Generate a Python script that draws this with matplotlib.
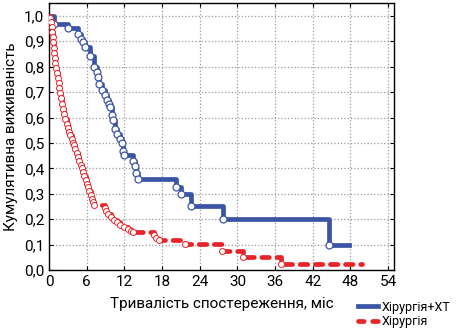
import matplotlib
matplotlib.use("Agg")
import matplotlib.pyplot as plt
from matplotlib.lines import Line2D

plt.rcParams['font.family'] = ['Roboto', 'DejaVu Sans']

# Хірургія+ХТ (час, частка)
t_xt = [0, 0.8, 3.0, 4.6, 5.1, 5.4, 5.7, 6.5, 7.2, 7.6, 7.8, 8.0, 8.4, 8.9, 9.2, 9.5,
        9.7, 10.0, 10.2, 10.5, 10.8, 11.3, 11.6, 11.8, 12.0, 13.4, 13.7, 13.8, 14.2,
        20.2, 21.0, 22.6, 27.7, 44.6, 47.8]
s_xt = [1.0, 0.968, 0.95, 0.93, 0.91, 0.895, 0.878, 0.842, 0.80, 0.78, 0.76, 0.73, 0.71,
        0.69, 0.67, 0.655, 0.64, 0.61, 0.59, 0.555, 0.535, 0.515, 0.50, 0.47, 0.452,
        0.43, 0.41, 0.38, 0.357, 0.327, 0.30, 0.254, 0.20, 0.10, 0.10]

# Хірургія
t_s = [0, 0.15, 0.3, 0.4, 0.5, 0.55, 0.6, 0.7, 0.8, 0.9, 1.0, 1.1, 1.2, 1.35, 1.5, 1.65,
       1.8, 1.95, 2.1, 2.25, 2.4, 2.6, 2.8, 3.0, 3.2, 3.4, 3.6, 3.8, 4.0, 4.2, 4.4, 4.6,
       4.8, 5.0, 5.2, 5.4, 5.6, 5.8, 6.0, 6.2, 6.4, 6.6, 6.8, 7.0, 7.2,
       8.9, 9.1, 9.4, 9.8, 10.3, 10.8, 11.3, 11.9, 12.5, 13.0, 13.4,
       16.7, 17.0, 17.5, 21.6, 27.6, 30.8, 37.0, 49.8]
s_s = [1.0, 0.99, 0.975, 0.955, 0.935, 0.915, 0.895, 0.875, 0.855, 0.835, 0.815, 0.795,
       0.775, 0.755, 0.735, 0.715, 0.695, 0.675, 0.655, 0.635, 0.615, 0.595, 0.575, 0.558,
       0.542, 0.53, 0.515, 0.50, 0.49, 0.475, 0.46, 0.445, 0.43, 0.415, 0.40, 0.385, 0.37,
       0.355, 0.34, 0.325, 0.31, 0.295, 0.28, 0.268, 0.258,
       0.245, 0.232, 0.22, 0.208, 0.198, 0.188, 0.178, 0.17, 0.162, 0.155, 0.148,
       0.137, 0.127, 0.117, 0.102, 0.077, 0.05, 0.025, 0.025]

blue = '#3a55a6'
red = '#e8242a'

fig = plt.figure(figsize=(4.59, 3.36), dpi=100)
ax = fig.add_axes([0.107, 0.196, 0.751, 0.795])

ax.step(t_xt, s_xt, where='post', color=blue, lw=3.4, zorder=3)
ax.plot(t_xt[1:-1], s_xt[1:-1], 'o', ms=5, mfc='white', mec=blue, mew=0.9, zorder=4)

ax.step(t_s, s_s, where='post', color=red, lw=3.4, ls=(0, (1.6, 1.6)),
        dash_capstyle='round', zorder=3)
ax.plot(t_s[1:-1], s_s[1:-1], 'o', ms=4.3, mfc='white', mec=red, mew=0.7, zorder=4)

ax.set_xlim(0, 54.9)
ax.set_ylim(0, 1.05)
ax.set_xticks(range(0, 55, 6))
yt = [i / 10 for i in range(11)]
ax.set_yticks(yt)
ax.set_yticklabels([f'{v:.1f}'.replace('.', ',') for v in yt])
ax.tick_params(labelsize=11, length=3, direction='in', top=True, right=True,
               labeltop=False, labelright=False)
ax.grid(True, color='#9a9a9a', ls=':', lw=0.9)
for sp in ax.spines.values():
    sp.set_linewidth(1.0)

ax.set_xlabel('Тривалість спостереження, міс', fontsize=11, labelpad=6)
ax.set_ylabel('Кумулятивна виживаність', fontsize=11, labelpad=4)

handles = [Line2D([], [], color=blue, lw=3.4),
           Line2D([], [], color=red, lw=3.4, ls=(0, (1.2, 1.8)), dash_capstyle='round')]
fig.legend(handles, ['Хірургія+ХТ', 'Хірургія'], loc='lower left',
           bbox_to_anchor=(0.775, 0.015), frameon=False, fontsize=9,
           handlelength=1.6, handletextpad=0.3, labelspacing=0.15, borderpad=0.2,
           borderaxespad=0)

fig.savefig('out.png', dpi=100)
